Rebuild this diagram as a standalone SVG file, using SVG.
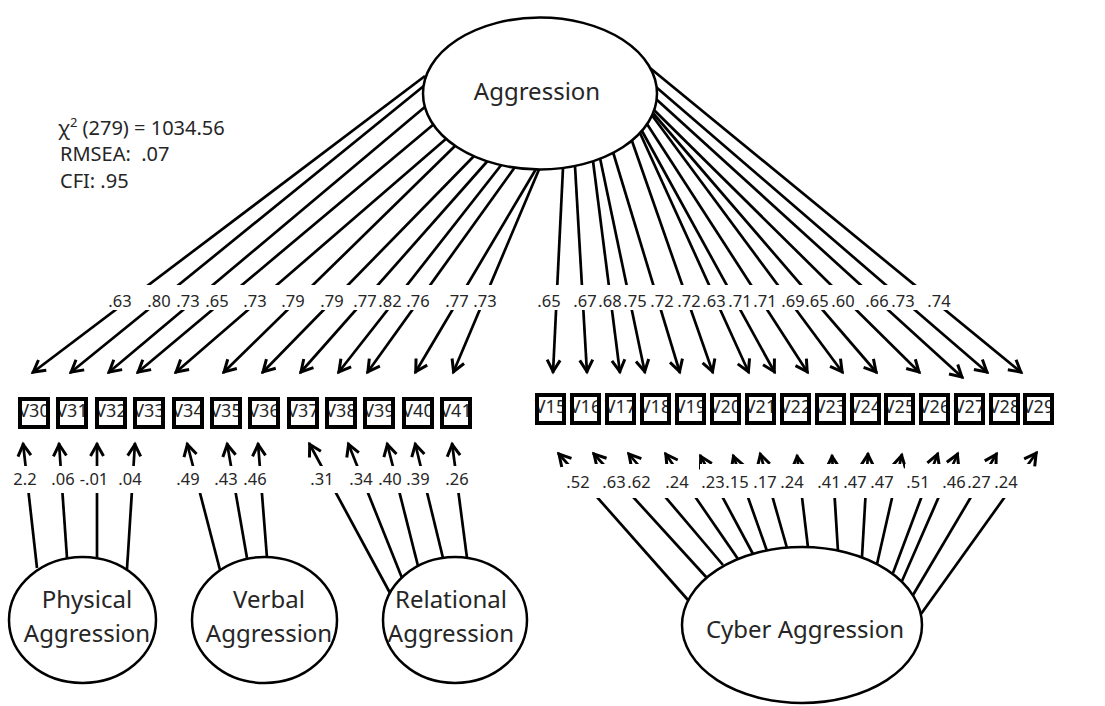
<svg xmlns="http://www.w3.org/2000/svg" width="1105" height="706" viewBox="0 0 1105 706">
<defs>
<style>
.c{fill:none;stroke:#000;stroke-width:2.7;marker-end:url(#ah)}
.n{fill:#fff;stroke:#000;stroke-width:2.5}
.t{font-family:"Noto Sans","Open Sans",sans-serif;fill:#262626;text-anchor:middle}
.nl{font-size:24px}
.ld{font-size:16.5px}
.bx{font-size:18px}
.st{font-family:"Noto Sans","Open Sans",sans-serif;fill:#262626;font-size:20px}
.bg{fill:#fff}
.bf{fill:#fff}
.bb{fill:none;stroke:#000;stroke-width:4}
</style>
<marker id="ah" markerUnits="userSpaceOnUse" orient="auto" refX="0" refY="0" markerWidth="20" markerHeight="20" overflow="visible">
<path d="M-13,-6.5 L-1.5,0 L-13,6.5" fill="none" stroke="#000" stroke-width="3"/>
</marker>
</defs>
<rect width="1105" height="706" fill="#fff"/>

<!-- fit statistics -->
<g id="fit">
<text class="st" x="58" y="135">χ<tspan font-size="13" dy="-8">2</tspan><tspan dy="8"> (279) = 1034.56</tspan></text>
<text class="st" x="60" y="161" xml:space="preserve">RMSEA:  .07</text>
<text class="st" x="60" y="188">CFI: .95</text>
</g>

<g id="connectors">
<!-- Aggression to V30-V41 -->
<line class="c" x1="425" y1="76" x2="32" y2="373"/>
<line class="c" x1="425" y1="85" x2="70" y2="373"/>
<line class="c" x1="426" y1="106" x2="108" y2="373"/>
<line class="c" x1="434" y1="124" x2="137" y2="373"/>
<line class="c" x1="447" y1="138" x2="175" y2="373"/>
<line class="c" x1="456" y1="145" x2="223" y2="373"/>
<line class="c" x1="475" y1="155" x2="262" y2="373"/>
<line class="c" x1="488" y1="160.5" x2="300" y2="373"/>
<line class="c" x1="502" y1="164" x2="338" y2="373"/>
<line class="c" x1="515" y1="167" x2="367" y2="373"/>
<line class="c" x1="536" y1="169" x2="415" y2="373"/>
<line class="c" x1="539" y1="169.5" x2="453" y2="373"/>
<!-- Aggression to V15-V29 -->
<line class="c" x1="563" y1="168" x2="553" y2="373"/>
<line class="c" x1="575" y1="166" x2="587" y2="373"/>
<line class="c" x1="593" y1="161" x2="620" y2="373"/>
<line class="c" x1="600" y1="158" x2="645" y2="373"/>
<line class="c" x1="613" y1="152" x2="680" y2="373"/>
<line class="c" x1="632" y1="141" x2="713" y2="373"/>
<line class="c" x1="640" y1="133" x2="749" y2="373"/>
<line class="c" x1="642" y1="131" x2="775" y2="373"/>
<line class="c" x1="647" y1="124" x2="808" y2="373"/>
<line class="c" x1="651" y1="114" x2="843" y2="373"/>
<line class="c" x1="652" y1="112" x2="877" y2="373"/>
<line class="c" x1="654" y1="110" x2="920" y2="373"/>
<line class="c" x1="656" y1="99" x2="963" y2="378"/>
<line class="c" x1="656" y1="87" x2="988" y2="373"/>
<line class="c" x1="650" y1="68" x2="1022" y2="373"/>
<!-- Physical Aggression -->
<line class="c" x1="37" y1="568" x2="23" y2="443"/>
<line class="c" x1="67" y1="558" x2="59" y2="443"/>
<line class="c" x1="97" y1="558" x2="97" y2="443"/>
<line class="c" x1="127" y1="569" x2="135" y2="443"/>
<!-- Verbal Aggression -->
<line class="c" x1="220" y1="570" x2="187" y2="443"/>
<line class="c" x1="247" y1="558" x2="227" y2="443"/>
<line class="c" x1="267" y1="558" x2="258" y2="443"/>
<!-- Relational Aggression -->
<line class="c" x1="390" y1="593" x2="309" y2="443"/>
<line class="c" x1="402" y1="578" x2="348" y2="443"/>
<line class="c" x1="418" y1="566" x2="387" y2="443"/>
<line class="c" x1="443" y1="558" x2="415" y2="443"/>
<line class="c" x1="467" y1="558" x2="452" y2="443"/>
<!-- Cyber Aggression -->
<line class="c" x1="688" y1="600" x2="558" y2="453"/>
<line class="c" x1="707" y1="578" x2="593" y2="453"/>
<line class="c" x1="723" y1="565" x2="628" y2="453"/>
<line class="c" x1="738" y1="559" x2="665" y2="453"/>
<line class="c" x1="753" y1="554" x2="700" y2="455"/>
<line class="c" x1="767" y1="551" x2="733" y2="455"/>
<line class="c" x1="787" y1="548" x2="760" y2="453"/>
<line class="c" x1="808" y1="547.5" x2="797" y2="455"/>
<line class="c" x1="838" y1="551" x2="832" y2="455"/>
<line class="c" x1="862" y1="557" x2="868" y2="453"/>
<line class="c" x1="877" y1="564" x2="902" y2="454"/>
<line class="c" x1="893" y1="573" x2="938" y2="453"/>
<line class="c" x1="902" y1="581" x2="958" y2="453"/>
<line class="c" x1="913" y1="595" x2="997" y2="453"/>
<line class="c" x1="921" y1="614" x2="1037" y2="452"/>
</g>

<!-- white backings that interrupt the paths under their coefficients -->
<g id="label-backs">
<rect class="bg" x="105" y="285" width="46" height="25"/>
<rect class="bg" x="144" y="285" width="37" height="25"/>
<rect class="bg" x="173" y="285" width="42" height="25"/>
<rect class="bg" x="202" y="285" width="43" height="25"/>
<rect class="bg" x="240" y="285" width="40" height="25"/>
<rect class="bg" x="279" y="285" width="37" height="25"/>
<rect class="bg" x="317" y="285" width="34" height="25"/>
<rect class="bg" x="350" y="285" width="31" height="25"/>
<rect class="bg" x="375" y="285" width="35" height="25"/>
<rect class="bg" x="404" y="285" width="29" height="25"/>
<rect class="bg" x="442" y="285" width="29" height="25"/>
<rect class="bg" x="470" y="285" width="30" height="25"/>

<rect class="bg" x="535" y="285" width="28" height="25"/>
<rect class="bg" x="570" y="285" width="29" height="25"/>
<rect class="bg" x="596" y="285" width="28" height="25"/>
<rect class="bg" x="621" y="285" width="29" height="25"/>
<rect class="bg" x="649" y="285" width="27" height="25"/>
<rect class="bg" x="675" y="285" width="28" height="25"/>
<rect class="bg" x="700" y="285" width="28" height="25"/>
<rect class="bg" x="723" y="285" width="30" height="25"/>
<rect class="bg" x="748" y="285" width="31" height="25"/>
<rect class="bg" x="775" y="285" width="31" height="25"/>
<rect class="bg" x="798" y="285" width="33" height="25"/>
<rect class="bg" x="828" y="285" width="31" height="25"/>
<rect class="bg" x="857" y="285" width="34" height="25"/>
<rect class="bg" x="882" y="285" width="36" height="25"/>
<rect class="bg" x="911" y="285" width="42" height="25"/>

<rect class="bg" x="10" y="466" width="30" height="27"/>
<rect class="bg" x="49" y="466" width="29" height="27"/>
<rect class="bg" x="77" y="466" width="34" height="27"/>
<rect class="bg" x="115" y="466" width="30" height="27"/>
<rect class="bg" x="173" y="466" width="30" height="27"/>
<rect class="bg" x="211" y="466" width="30" height="27"/>
<rect class="bg" x="240" y="466" width="30" height="27"/>
<rect class="bg" x="307" y="466" width="32" height="27"/>
<rect class="bg" x="346" y="466" width="30" height="27"/>
<rect class="bg" x="375" y="466" width="30" height="27"/>
<rect class="bg" x="404" y="466" width="29" height="27"/>
<rect class="bg" x="442" y="466" width="29" height="27"/>

<rect class="bg" x="565" y="464" width="35" height="34"/>
<rect class="bg" x="600" y="464" width="36" height="34"/>
<rect class="bg" x="625" y="464" width="43" height="34"/>
<rect class="bg" x="664" y="464" width="35" height="34"/>
<rect class="bg" x="700" y="464" width="26" height="34"/>
<rect class="bg" x="725" y="464" width="26" height="34"/>
<rect class="bg" x="752" y="464" width="26" height="34"/>
<rect class="bg" x="779" y="464" width="27" height="34"/>
<rect class="bg" x="815" y="464" width="28" height="34"/>
<rect class="bg" x="842" y="464" width="28" height="34"/>
<rect class="bg" x="869" y="464" width="34" height="34"/>
<rect class="bg" x="905" y="464" width="31" height="34"/>
<rect class="bg" x="935" y="464" width="33" height="34"/>
<rect class="bg" x="965" y="464" width="28" height="34"/>
<rect class="bg" x="992" y="464" width="38" height="34"/>
</g>

<g id="coefficients" class="t ld">
<text x="120" y="307">.63</text>
<text x="159" y="307">.80</text>
<text x="188" y="307">.73</text>
<text x="217" y="307">.65</text>
<text x="255" y="307">.73</text>
<text x="293" y="307">.79</text>
<text x="332" y="307">.79</text>
<text x="365" y="307">.77</text>
<text x="390" y="307">.82</text>
<text x="418" y="307">.76</text>
<text x="457" y="307">.77</text>
<text x="485" y="307">.73</text>

<text x="549" y="307">.65</text>
<text x="585" y="307">.67</text>
<text x="610" y="307">.68</text>
<text x="635" y="307">.75</text>
<text x="662" y="307">.72</text>
<text x="689" y="307">.72</text>
<text x="714" y="307">.63</text>
<text x="740" y="307">.71</text>
<text x="765" y="307">.71</text>
<text x="793" y="307">.69</text>
<text x="817" y="307">.65</text>
<text x="843" y="307">.60</text>
<text x="877" y="307">.66</text>
<text x="903" y="307">.73</text>
<text x="939" y="307">.74</text>

<text x="25" y="485">2.2</text>
<text x="63" y="485">.06</text>
<text x="94" y="485">-.01</text>
<text x="130" y="485">.04</text>
<text x="188" y="485">.49</text>
<text x="226" y="485">.43</text>
<text x="255" y="485">.46</text>
<text x="322" y="485">.31</text>
<text x="361" y="485">.34</text>
<text x="390" y="485">.40</text>
<text x="418" y="485">.39</text>
<text x="457" y="485">.26</text>

<text x="578" y="488">.52</text>
<text x="614" y="488">.63</text>
<text x="639" y="488">.62</text>
<text x="677" y="488">.24</text>
<text x="713" y="488">.23</text>
<text x="737" y="488">.15</text>
<text x="765" y="488">.17</text>
<text x="792" y="488">.24</text>
<text x="829" y="488">.41</text>
<text x="855" y="488">.47</text>
<text x="882" y="488">.47</text>
<text x="918" y="488">.51</text>
<text x="954" y="488">.46</text>
<text x="979" y="488">.27</text>
<text x="1006" y="488">.24</text>
</g>

<!-- latent factors -->
<g id="Aggression">
<ellipse class="n" cx="540" cy="93.5" rx="117" ry="76"/>
<text class="t nl" x="537" y="100">Aggression</text>
</g>
<g id="PhysicalAggression">
<ellipse class="n" cx="82.5" cy="620" rx="73.5" ry="63"/>
<text class="t nl" x="87" y="608">Physical</text>
<text class="t nl" x="87" y="642">Aggression</text>
</g>
<g id="VerbalAggression">
<ellipse class="n" cx="264.5" cy="620" rx="72.5" ry="63"/>
<text class="t nl" x="269" y="608">Verbal</text>
<text class="t nl" x="269" y="642">Aggression</text>
</g>
<g id="RelationalAggression">
<ellipse class="n" cx="455" cy="620" rx="72" ry="63"/>
<text class="t nl" x="451" y="608">Relational</text>
<text class="t nl" x="451" y="642">Aggression</text>
</g>
<g id="CyberAggression">
<ellipse class="n" cx="802" cy="625" rx="120" ry="78"/>
<text class="t nl" x="805" y="638">Cyber Aggression</text>
</g>

<!-- observed items -->
<g id="V30"><rect class="bf" x="20" y="399" width="28" height="28"/><text class="t bx" x="34" y="417">V30</text><rect class="bb" x="20" y="399" width="28" height="28"/></g>
<g id="V31"><rect class="bf" x="58" y="399" width="28" height="28"/><text class="t bx" x="72" y="417">V31</text><rect class="bb" x="58" y="399" width="28" height="28"/></g>
<g id="V32"><rect class="bf" x="97" y="399" width="28" height="28"/><text class="t bx" x="111" y="417">V32</text><rect class="bb" x="97" y="399" width="28" height="28"/></g>
<g id="V33"><rect class="bf" x="135" y="399" width="28" height="28"/><text class="t bx" x="149" y="417">V33</text><rect class="bb" x="135" y="399" width="28" height="28"/></g>
<g id="V34"><rect class="bf" x="174" y="399" width="28" height="28"/><text class="t bx" x="188" y="417">V34</text><rect class="bb" x="174" y="399" width="28" height="28"/></g>
<g id="V35"><rect class="bf" x="212" y="399" width="28" height="28"/><text class="t bx" x="226" y="417">V35</text><rect class="bb" x="212" y="399" width="28" height="28"/></g>
<g id="V36"><rect class="bf" x="250" y="399" width="28" height="28"/><text class="t bx" x="264" y="417">V36</text><rect class="bb" x="250" y="399" width="28" height="28"/></g>
<g id="V37"><rect class="bf" x="289" y="399" width="28" height="28"/><text class="t bx" x="303" y="417">V37</text><rect class="bb" x="289" y="399" width="28" height="28"/></g>
<g id="V38"><rect class="bf" x="327" y="399" width="28" height="28"/><text class="t bx" x="341" y="417">V38</text><rect class="bb" x="327" y="399" width="28" height="28"/></g>
<g id="V39"><rect class="bf" x="365" y="399" width="28" height="28"/><text class="t bx" x="379" y="417">V39</text><rect class="bb" x="365" y="399" width="28" height="28"/></g>
<g id="V40"><rect class="bf" x="404" y="399" width="28" height="28"/><text class="t bx" x="418" y="417">V40</text><rect class="bb" x="404" y="399" width="28" height="28"/></g>
<g id="V41"><rect class="bf" x="442" y="399" width="28" height="28"/><text class="t bx" x="456" y="417">V41</text><rect class="bb" x="442" y="399" width="28" height="28"/></g>

<g id="V15"><rect class="bf" x="537" y="395" width="27" height="28"/><text class="t bx" x="550.5" y="413">V15</text><rect class="bb" x="537" y="395" width="27" height="28"/></g>
<g id="V16"><rect class="bf" x="572" y="395" width="27" height="28"/><text class="t bx" x="585.5" y="413">V16</text><rect class="bb" x="572" y="395" width="27" height="28"/></g>
<g id="V17"><rect class="bf" x="607" y="395" width="27" height="28"/><text class="t bx" x="620.5" y="413">V17</text><rect class="bb" x="607" y="395" width="27" height="28"/></g>
<g id="V18"><rect class="bf" x="642" y="395" width="27" height="28"/><text class="t bx" x="655.5" y="413">V18</text><rect class="bb" x="642" y="395" width="27" height="28"/></g>
<g id="V19"><rect class="bf" x="677" y="395" width="27" height="28"/><text class="t bx" x="690.5" y="413">V19</text><rect class="bb" x="677" y="395" width="27" height="28"/></g>
<g id="V20"><rect class="bf" x="712" y="395" width="27" height="28"/><text class="t bx" x="725.5" y="413">V20</text><rect class="bb" x="712" y="395" width="27" height="28"/></g>
<g id="V21"><rect class="bf" x="747" y="395" width="27" height="28"/><text class="t bx" x="760.5" y="413">V21</text><rect class="bb" x="747" y="395" width="27" height="28"/></g>
<g id="V22"><rect class="bf" x="782" y="395" width="27" height="28"/><text class="t bx" x="795.5" y="413">V22</text><rect class="bb" x="782" y="395" width="27" height="28"/></g>
<g id="V23"><rect class="bf" x="817" y="395" width="27" height="28"/><text class="t bx" x="830.5" y="413">V23</text><rect class="bb" x="817" y="395" width="27" height="28"/></g>
<g id="V24"><rect class="bf" x="852" y="395" width="27" height="28"/><text class="t bx" x="865.5" y="413">V24</text><rect class="bb" x="852" y="395" width="27" height="28"/></g>
<g id="V25"><rect class="bf" x="886" y="395" width="27" height="28"/><text class="t bx" x="899.5" y="413">V25</text><rect class="bb" x="886" y="395" width="27" height="28"/></g>
<g id="V26"><rect class="bf" x="921" y="395" width="27" height="28"/><text class="t bx" x="934.5" y="413">V26</text><rect class="bb" x="921" y="395" width="27" height="28"/></g>
<g id="V27"><rect class="bf" x="956" y="395" width="27" height="28"/><text class="t bx" x="969.5" y="413">V27</text><rect class="bb" x="956" y="395" width="27" height="28"/></g>
<g id="V28"><rect class="bf" x="991" y="395" width="27" height="28"/><text class="t bx" x="1004.5" y="413">V28</text><rect class="bb" x="991" y="395" width="27" height="28"/></g>
<g id="V29"><rect class="bf" x="1025" y="395" width="27" height="28"/><text class="t bx" x="1038.5" y="413">V29</text><rect class="bb" x="1025" y="395" width="27" height="28"/></g>
</svg>
